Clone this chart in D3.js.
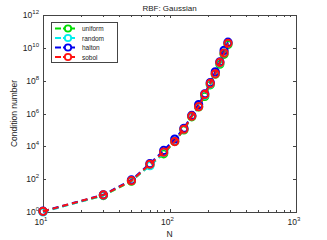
<!DOCTYPE html>
<html>
<head>
<meta charset="utf-8">
<script src="https://cdn.jsdelivr.net/npm/d3@7"></script>
<style>
body { margin: 0; background: #fff; }
text { font-family: "Liberation Sans", Arial, sans-serif; fill: #222; }
</style>
</head>
<body>
<script>
var N = [10, 30, 50, 70, 90, 110, 130, 150, 170, 190, 210, 230, 250, 270, 290];
var uniform = [1.07, 10, 75, 710, 3500, 20000, 100000, 630000, 2.5e6, 1.1e7, 5.6e7, 2.5e8, 1e9, 4e9, 1.6e10];
var random = [1.0, 10.5, 85, 660, 4200, 21000, 112000, 720000, 2.8e6, 1.3e7, 6.3e7, 2.8e8, 1.2e9, 5e9, 1.9e10];
var halton = [1.12, 11.2, 90, 890, 5600, 28000, 126000, 760000, 3.5e6, 1.6e7, 7.6e7, 3.5e8, 1.4e9, 7e9, 2.2e10];
var sobol = [1.1, 11, 81, 810, 4400, 19500, 110000, 690000, 2.6e6, 1.45e7, 6.8e7, 2.6e8, 1.3e9, 4.8e9, 1.9e10];
var seriesNames = ["uniform", "random", "halton", "sobol"];
var seriesColors = ["#00dd00", "#00eeee", "#0000ee", "#ff1111"];
var xTickExp = [1, 2, 3];
var yTickExp = [0, 2, 4, 6, 8, 10, 12];

var series = [uniform, random, halton, sobol].map(function (vals, i) {
  return {name: seriesNames[i], color: seriesColors[i],
    pts: vals.map(function (v, j) { return {n: N[j], v: v}; })};
});

var W = 327, H = 240;
var margin = {top: 15, right: 31, bottom: 28, left: 43};
var width = W - margin.left - margin.right,
    height = H - margin.top - margin.bottom;

var svg = d3.select("body").append("svg").attr("width", W).attr("height", H);
var g = svg.append("g").attr("transform", "translate(" + margin.left + "," + margin.top + ")");

var x = d3.scaleLog().domain([10, 1000]).range([0, width]);
var y = d3.scaleLog().domain([1, 1e12]).range([height, 0]);

// ticks (inside, on all sides)
var minorX = [];
[10, 100].forEach(function (b) { for (var k = 2; k <= 9; k++) minorX.push(b * k); });
var tl = 3;
var ticks = g.append("g").attr("stroke", "#444").attr("stroke-width", 1);
xTickExp.forEach(function (e) {
  var px = Math.round(x(Math.pow(10, e))) + 0.5;
  ticks.append("line").attr("x1", px).attr("x2", px).attr("y1", height).attr("y2", height - tl);
  ticks.append("line").attr("x1", px).attr("x2", px).attr("y1", 0).attr("y2", tl);
});
minorX.forEach(function (v) {
  var px = Math.round(x(v)) + 0.5;
  ticks.append("line").attr("x1", px).attr("x2", px).attr("y1", height).attr("y2", height - 2);
  ticks.append("line").attr("x1", px).attr("x2", px).attr("y1", 0).attr("y2", 2);
});
yTickExp.forEach(function (e) {
  var py = Math.round(y(Math.pow(10, e))) + 0.5;
  ticks.append("line").attr("x1", 0).attr("x2", tl).attr("y1", py).attr("y2", py);
  ticks.append("line").attr("x1", width).attr("x2", width - tl).attr("y1", py).attr("y2", py);
});

// box
g.append("rect").attr("x", 0.5).attr("y", 0.5).attr("width", width).attr("height", height)
  .attr("fill", "none").attr("stroke", "#444").attr("stroke-width", 1);

// tick labels
xTickExp.forEach(function (e) {
  var t = g.append("text").attr("x", x(Math.pow(10, e)) - 2).attr("y", height + 13)
    .attr("text-anchor", "middle").attr("font-size", 8.5);
  t.append("tspan").text("10");
  t.append("tspan").attr("dy", -4).attr("font-size", 6).text(e);
});
yTickExp.forEach(function (e) {
  var t = g.append("text").attr("x", -4).attr("y", y(Math.pow(10, e)) + 3)
    .attr("text-anchor", "end").attr("font-size", 8.5);
  t.append("tspan").text("10");
  t.append("tspan").attr("dy", -4).attr("font-size", 6).text(e);
});

// series
var line = d3.line().x(function (d) { return x(d.n); }).y(function (d) { return y(d.v); });
series.forEach(function (s) {
  var sg = g.append("g");
  sg.append("path").datum(s.pts).attr("d", line).attr("fill", "none")
    .attr("stroke", s.color).attr("stroke-width", 2).attr("stroke-dasharray", "6,4");
  sg.selectAll("circle").data(s.pts).enter().append("circle")
    .attr("cx", function (d) { return x(d.n); })
    .attr("cy", function (d) { return y(d.v); })
    .attr("r", 3.6).attr("fill", "none").attr("stroke", s.color).attr("stroke-width", 2);
});

// legend
var lg = g.append("g").attr("transform", "translate(8,7)");
lg.append("rect").attr("x", 0.5).attr("y", 0.5).attr("width", 66).attr("height", 40)
  .attr("fill", "#fff").attr("stroke", "#444").attr("stroke-width", 1);
series.forEach(function (s, i) {
  var yy = 6.5 + i * 9.5;
  lg.append("line").attr("x1", 4).attr("x2", 24).attr("y1", yy).attr("y2", yy)
    .attr("stroke", s.color).attr("stroke-width", 2).attr("stroke-dasharray", "6,2");
  lg.append("circle").attr("cx", 17).attr("cy", yy).attr("r", 3.2)
    .attr("fill", "#fff").attr("stroke", s.color).attr("stroke-width", 1.8);
  lg.append("text").attr("x", 31).attr("y", yy + 2.5).attr("font-size", 6.5).text(s.name);
});

// title and axis labels
svg.append("text").attr("x", margin.left + width / 2).attr("y", 11)
  .attr("text-anchor", "middle").attr("font-size", 8).text("RBF: Gaussian");
svg.append("text").attr("x", margin.left + width / 2).attr("y", 237)
  .attr("text-anchor", "middle").attr("font-size", 8.5).text("N");
svg.append("text").attr("transform", "translate(17," + (margin.top + height / 2) + ") rotate(-90)")
  .attr("text-anchor", "middle").attr("font-size", 8.5).text("Condition number");
</script>
</body>
</html>
